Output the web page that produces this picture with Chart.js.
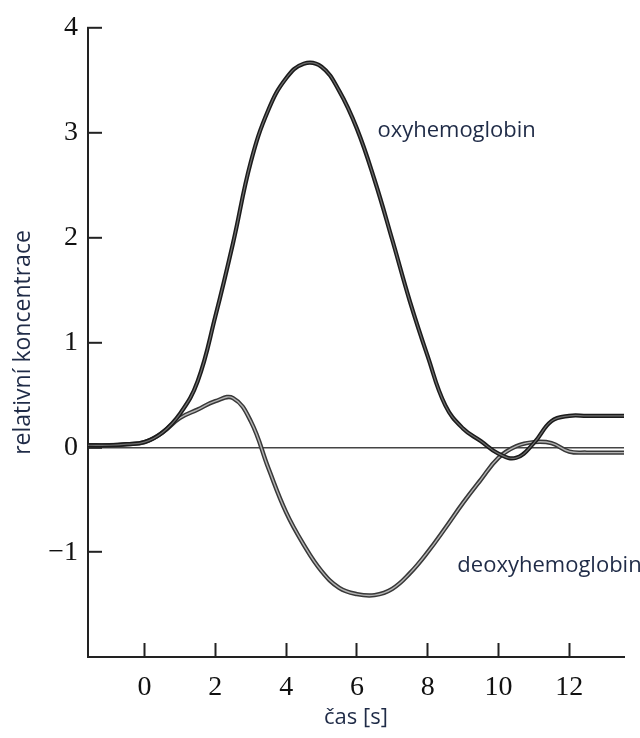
<!DOCTYPE html>
<html>
<head>
<meta charset="utf-8">
<script src="https://cdn.jsdelivr.net/npm/chart.js@4.4.1/dist/chart.umd.min.js"></script>
<style>
html,body{margin:0;padding:0;background:#fff;}
#wrap{width:640px;height:738px;}
</style>
</head>
<body>
<div id="wrap"><canvas id="c" width="640" height="738"></canvas></div>
<script>
// ---- data ----
const time        = [-1.6, -1, -0.5, 0, 0.5, 1, 1.5, 2, 2.5, 3, 3.5, 4, 4.5, 5, 5.5, 6, 6.5, 7, 7.5, 8, 8.5, 9, 9.5, 10, 10.5, 11, 11.5, 12, 12.5, 13, 13.55];
const oxyValues   = [0.02, 0.02, 0.03, 0.05, 0.14, 0.32, 0.63, 1.25, 1.95, 2.72, 3.22, 3.52, 3.66, 3.63, 3.40, 3.04, 2.55, 1.98, 1.39, 0.87, 0.40, 0.18, 0.06, -0.06, -0.10, 0.04, 0.25, 0.30, 0.30, 0.30, 0.30];
const deoxyValues = [0.02, 0.02, 0.03, 0.05, 0.14, 0.28, 0.36, 0.44, 0.47, 0.25, -0.20, -0.62, -0.93, -1.18, -1.34, -1.40, -1.41, -1.35, -1.20, -1.00, -0.77, -0.53, -0.31, -0.10, 0.01, 0.05, 0.04, -0.04, -0.05, -0.05, -0.05];
const xTicks = [0, 2, 4, 6, 8, 10, 12];
const yTicks = [-1, 0, 1, 2, 3, 4];
const seriesNames = ['oxyhemoglobin', 'deoxyhemoglobin'];
const xTitle = 'čas [s]';
const yTitle = 'relativní koncentrace';

// ---- styling ----
const textColor = '#1f2b47';
const axisColor = '#222';
const serif = '"Liberation Serif", "DejaVu Serif", serif';
const sans = '"Open Sans", "Noto Sans", sans-serif';

const pts = vals => time.map((t, i) => ({x: t, y: vals[i]}));
const oxyPts = pts(oxyValues);
const deoxyPts = pts(deoxyValues);

const labelPlugin = {
  id: 'curveLabels',
  afterDatasetsDraw(chart, args, opts) {
    const {ctx, scales: {x, y}} = chart;
    ctx.save();
    ctx.font = '22px ' + sans;
    ctx.fillStyle = textColor;
    ctx.textBaseline = 'middle';
    ctx.textAlign = 'left';
    opts.items.forEach(a => ctx.fillText(a.text, x.getPixelForValue(a.x), y.getPixelForValue(a.y)));
    ctx.restore();
  }
};

function lineDs(label, data, color, width, order) {
  return {label, data, borderColor: color, borderWidth: width, pointRadius: 0,
          tension: 0.42, fill: false, order, borderCapStyle: 'round', borderJoinStyle: 'round'};
}

function build() {
  new Chart(document.getElementById('c'), {
    type: 'line',
    data: {
      datasets: [
        lineDs(seriesNames[0], oxyPts, '#6e6e6e', 1.2, 0),
        lineDs(seriesNames[0], oxyPts, '#1b1b1b', 4.2, 1),
        lineDs(seriesNames[1], deoxyPts, '#b4b4b4', 1.4, 2),
        lineDs(seriesNames[1], deoxyPts, '#383838', 4.4, 3)
      ]
    },
    options: {
      responsive: false,
      animation: false,
      layout: {padding: {top: 28, right: 16, bottom: 0, left: 0}},
      plugins: {
        legend: {display: false},
        tooltip: {enabled: false},
        curveLabels: {items: [
          {text: seriesNames[0], x: 6.58, y: 3.02},
          {text: seriesNames[1], x: 8.84, y: -1.13}
        ]}
      },
      scales: {
        x: {
          type: 'linear', min: -1.6, max: 13.55,
          afterBuildTicks: s => { s.ticks = xTicks.map(v => ({value: v})); },
          afterFit: s => { s.height = 81; s.paddingLeft = 0; s.paddingRight = 0; },
          border: {color: axisColor, width: 2},
          grid: {color: 'rgba(0,0,0,0)', tickColor: axisColor, tickWidth: 2, tickLength: -14, drawOnChartArea: true},
          ticks: {color: '#111', font: {family: serif, size: 28}, padding: 28, maxRotation: 0, autoSkip: false},
          title: {display: true, text: xTitle, color: textColor, font: {family: sans, size: 22}, padding: {top: 0, bottom: 7}}
        },
        y: {
          type: 'linear', min: -2, max: 4,
          afterBuildTicks: s => { s.ticks = yTicks.map(v => ({value: v})); },
          afterFit: s => { s.width = 88; s.paddingTop = 0; s.paddingBottom = 0; },
          border: {color: axisColor, width: 2},
          grid: {
            color: c => (c.tick && c.tick.value === 0) ? '#444' : 'rgba(0,0,0,0)',
            lineWidth: 1.6,
            tickColor: axisColor, tickWidth: 2, tickLength: -14, drawOnChartArea: true
          },
          ticks: {color: '#111', font: {family: serif, size: 28}, padding: 24,
                  callback: v => String(v).replace('-', '\u2212')},
          title: {display: true, text: yTitle, color: textColor, font: {family: sans, size: 23}, padding: {top: 10, bottom: 0}}
        }
      }
    },
    plugins: [labelPlugin]
  });
}

Promise.all([
  document.fonts.load('22px "Open Sans"'),
  document.fonts.load('28px "Liberation Serif"')
]).then(build, build);
</script>
</body>
</html>
